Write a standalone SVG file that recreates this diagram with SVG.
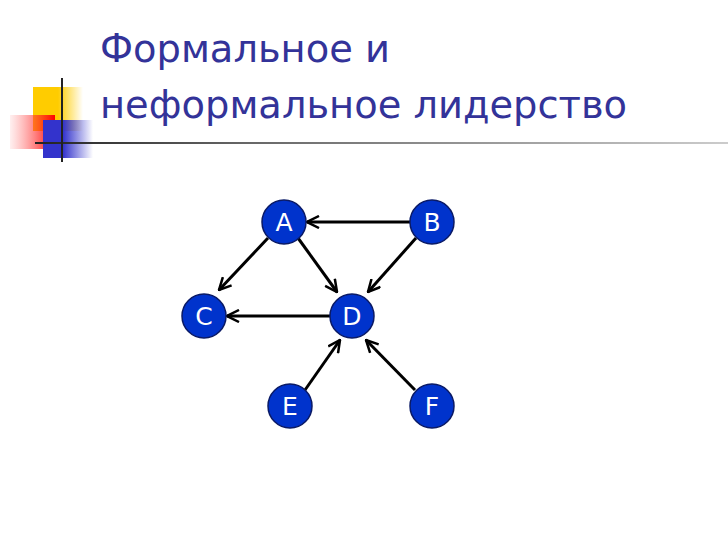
<svg xmlns="http://www.w3.org/2000/svg" width="728" height="546" viewBox="0 0 728 546">
<defs>
<linearGradient id="gy" x1="0" x2="1"><stop offset="0.5" stop-color="#ffcc00"/><stop offset="1" stop-color="#ffcc00" stop-opacity="0"/></linearGradient>
<linearGradient id="gr" x1="1" x2="0"><stop offset="0" stop-color="#ff0000"/><stop offset="1" stop-color="#ff6666" stop-opacity="0.1"/></linearGradient>
<linearGradient id="gb" x1="0" x2="1"><stop offset="0.4" stop-color="#3333cc"/><stop offset="1" stop-color="#3333cc" stop-opacity="0"/></linearGradient>
<linearGradient id="gl" x1="0" x2="1"><stop offset="0" stop-color="#222"/><stop offset="0.3" stop-color="#666"/><stop offset="1" stop-color="#ccc"/></linearGradient>
<marker id="ah" viewBox="0 0 14 14" refX="13" refY="7" markerWidth="14" markerHeight="14" markerUnits="userSpaceOnUse" orient="auto"><path d="M1,1 L13,7 L1,13" fill="none" stroke="#000" stroke-width="2.5"/></marker>
</defs>
<style>
.t{font-family:"DejaVu Sans",Verdana,sans-serif;font-size:38.4px;fill:#333399}
.n circle{fill:#0033cc;stroke:#0a1a66;stroke-width:1.5}
.n text{font-family:"DejaVu Sans",Verdana,sans-serif;font-size:25px;fill:#fff;text-anchor:middle}
#edges line{stroke:#000;stroke-width:3;marker-end:url(#ah)}
</style>
<rect width="728" height="546" fill="#fff"/>
<g id="deco">
<rect x="33" y="87" width="50" height="44" fill="url(#gy)"/>
<rect x="10" y="115" width="45" height="34" fill="url(#gr)"/>
<rect x="43" y="120" width="50" height="38" fill="url(#gb)"/>
<rect x="35" y="142" width="693" height="2" fill="url(#gl)"/>
<line x1="62" y1="78" x2="62" y2="162" stroke="#222" stroke-width="2"/>
</g>
<text class="t" x="100" y="62">Формальное и</text>
<text class="t" x="100" y="118">неформальное лидерство</text>
<g id="edges">
<line x1="410" y1="222" x2="307" y2="222"/>
<line x1="268" y1="238" x2="219" y2="290"/>
<line x1="298" y1="238" x2="337" y2="292"/>
<line x1="416" y1="238" x2="368" y2="292"/>
<line x1="330" y1="316" x2="227" y2="316"/>
<line x1="305" y1="390" x2="340" y2="340"/>
<line x1="415" y1="390" x2="366" y2="340"/>
</g>
<g id="A" class="n"><circle cx="284" cy="222" r="22"/><text x="284" y="231">A</text></g>
<g id="B" class="n"><circle cx="432" cy="222" r="22"/><text x="432" y="231">B</text></g>
<g id="C" class="n"><circle cx="204" cy="316" r="22"/><text x="204" y="325">C</text></g>
<g id="D" class="n"><circle cx="352" cy="316" r="22"/><text x="352" y="325">D</text></g>
<g id="E" class="n"><circle cx="290" cy="406" r="22"/><text x="290" y="415">E</text></g>
<g id="F" class="n"><circle cx="432" cy="406" r="22"/><text x="432" y="415">F</text></g>
</svg>
